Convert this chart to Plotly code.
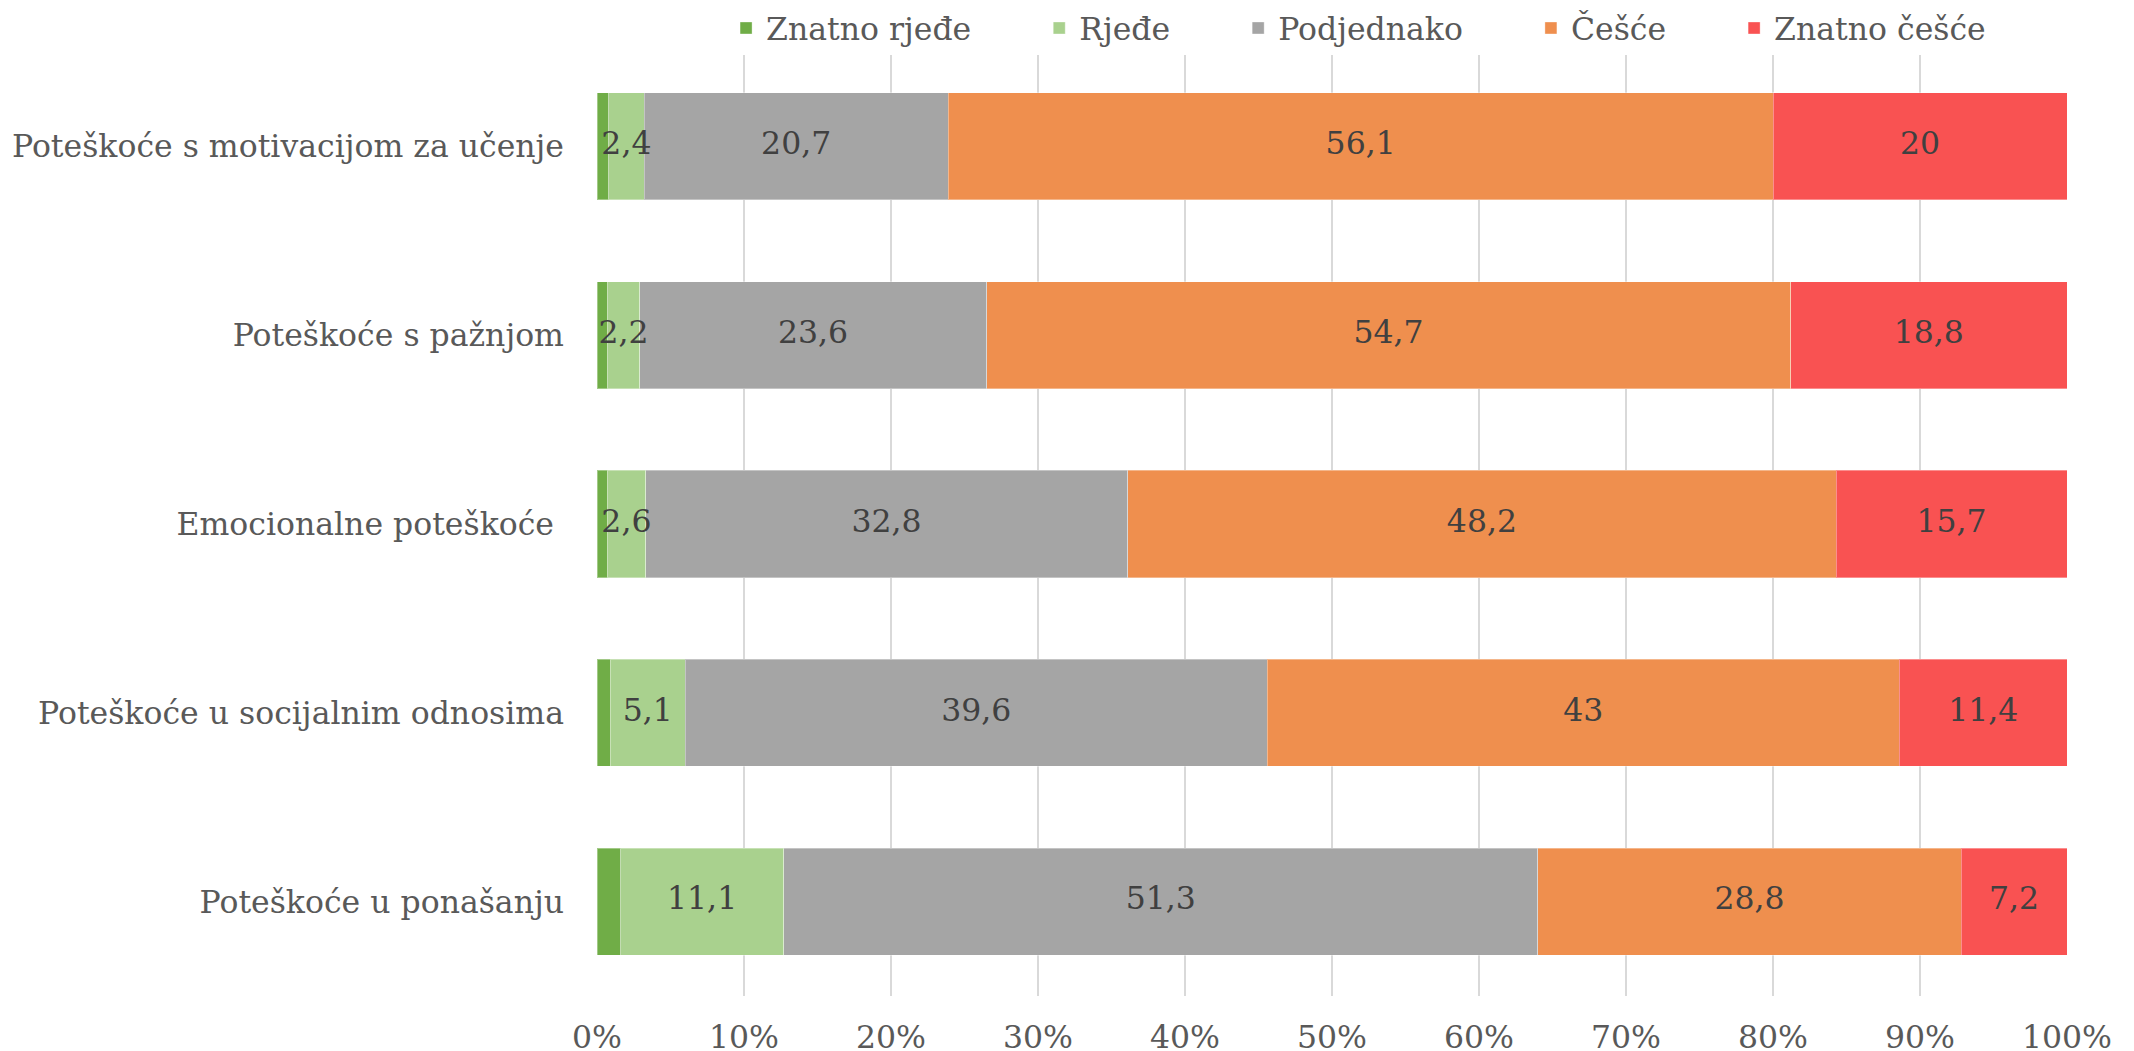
import plotly.graph_objects as go

categories = [
    "Poteškoće s motivacijom za učenje",
    "Poteškoće s pažnjom",
    "Emocionalne poteškoće\u00a0",
    "Poteškoće u socijalnim odnosima",
    "Poteškoće u ponašanju",
]
series_names = ["Znatno rjeđe", "Rjeđe", "Podjednako", "Češće", "Znatno češće"]
znatno_rjede = [0.8, 0.7, 0.7, 0.9, 1.6]
rjede = [2.4, 2.2, 2.6, 5.1, 11.1]
podjednako = [20.7, 23.6, 32.8, 39.6, 51.3]
cesce = [56.1, 54.7, 48.2, 43.0, 28.8]
znatno_cesce = [20.0, 18.8, 15.7, 11.4, 7.2]
show_labels = [False, True, True, True, True]
colors = ["#70AD47", "#A9D18E", "#A5A5A5", "#EF8F4E", "#F95252"]
x_ticks = [0, 10, 20, 30, 40, 50, 60, 70, 80, 90, 100]
x_ticktext = [f"{t}%" for t in x_ticks]

FONT = "DejaVu Serif"
FS = 31.5
LEGEND_PAD = "\u2003\u2003"

values = [znatno_rjede, rjede, podjednako, cesce, znatno_cesce]
n = len(categories)
totals = [sum(v[i] for v in values) for i in range(n)]

fig = go.Figure()
cum = [0.0] * n
lab_x, lab_y, lab_t = [], [], []
for k, (name, vals, col, lab) in enumerate(zip(series_names, values, colors, show_labels)):
    pct = [vals[i] / totals[i] * 100 for i in range(n)]
    shown = name + (LEGEND_PAD if k < len(series_names) - 1 else "")
    fig.add_trace(go.Bar(
        name=shown, y=categories, x=pct, orientation="h",
        marker=dict(color=col, line=dict(color="rgba(255,255,255,0.35)", width=1)),
        hoverinfo="skip",
    ))
    if lab:
        for i in range(n):
            lab_x.append(cum[i] + pct[i] / 2)
            lab_y.append(categories[i])
            lab_t.append(f"{vals[i]:g}".replace(".", ","))
    cum = [cum[i] + pct[i] for i in range(n)]

fig.add_trace(go.Scatter(
    x=lab_x, y=lab_y, text=lab_t, mode="text", showlegend=False,
    textfont=dict(family=FONT, size=FS, color="#404040"), hoverinfo="skip",
    cliponaxis=False,
))

fig.update_layout(
    barmode="stack", bargap=0.433,
    width=2134, height=1051,
    margin=dict(l=589, r=75, t=44, b=63, autoexpand=False),
    paper_bgcolor="white", plot_bgcolor="white",
    font=dict(family=FONT, size=FS, color="#595959"),
    legend=dict(orientation="h", x=0.0878, xanchor="left",
                yref="container", y=1 - 20 / 1051, yanchor="middle",
                font=dict(family=FONT, size=FS, color="#595959"),
                traceorder="normal", itemwidth=30),
    showlegend=True,
)
fig.update_xaxes(range=[0, 100], tickvals=x_ticks, ticktext=x_ticktext,
                 showgrid=True, gridcolor="#D9D9D9", gridwidth=1.5,
                 zeroline=False, showline=False, ticks="", ticklabelstandoff=19,
                 automargin=False,
                 tickfont=dict(family=FONT, size=FS, color="#595959"))
fig.update_yaxes(categoryorder="array", categoryarray=categories, autorange="reversed",
                 showgrid=False, zeroline=False, showline=False, ticks="",
                 ticklabelstandoff=32, automargin=False,
                 tickfont=dict(family=FONT, size=FS, color="#595959"))

fig.write_html("out.html")
